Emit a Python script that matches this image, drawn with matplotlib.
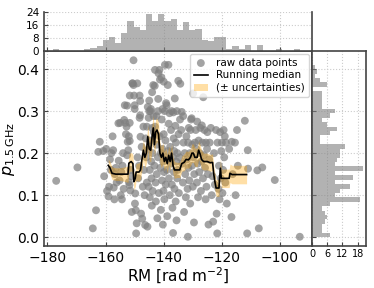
import numpy as np
import matplotlib
matplotlib.use("Agg")
import matplotlib.pyplot as plt

# ---------------- data ----------------
rm_vals = [-177, -169.7, -164.4, -163.3, -162, -162.5, -160.8, -160.5, -159.8, -159.5, -159, -158.8, -158.5,
           -158.2, -158, -157.6, -157.4, -157.2, -157, -156.8, -156.5, -156.2,
           -155.6, -155.5, -155.2, -155, -154.8, -154.6, -154.4, -154.2, -154, -153.8, -153.6,
           -153.4, -153.2, -153, -152.8, -152.6, -152.6, -152.4, -152.2, -152, -152, -151.8, -151.7, -151.7,
           -151.7, -151.5, -151.4, -151.2, -151, -150.8,
           -150.7, -150.4, -150.4, -150.2, -150, -150, -149.9, -149.8, -149.6, -149.5, -149.3, -149.1, -149, -148.8, -148.5,
           -148.3, -148.3, -148.1, -148.1, -148, -147.8, -147.6, -147.4, -147.2, -147, -146.8, -146.6, -146.4,
           -146.2, -146, -145.8, -145.8, -145.6, -145.5, -145.4, -145.2, -145.2, -145, -145, -144.8, -144.8, -144.6,
           -144.6, -144.4, -144.3, -144.2, -144.1, -144, -144, -143.9, -143.8,
           -143.6, -143.5, -143.4, -143.2, -143.1, -143, -143, -142.8, -142.7, -142.5, -142.5, -142.4, -142.2, -142,
           -142, -141.9, -141.8, -141.7, -141.5,
           -141.4, -141.3, -141.2, -141, -141, -140.8, -140.7, -140.6, -140.5, -140.4, -140.3, -140.2, -140.1, -140,
           -140, -139.9, -139.8, -139.7, -139.6, -139.5, -139.4, -139.3, -139.2,
           -139, -138.9, -138.8, -138.6, -138.5, -138.4, -138.3, -138.2, -138, -137.9, -137.8, -137.6, -137.5, -137.3,
           -137.2, -137, -136.9, -136.8, -136.7,
           -136.6, -136.5, -136.4, -136.3, -136.2, -136, -135.9, -135.8, -135.7, -135.6, -135.5, -135.4, -135.3, -135.2,
           -135, -134.9, -134.8, -134.6, -134.4, -134.3,
           -134, -133.8, -133.6, -133.4, -133.3, -133.2, -133, -132.8, -132.6, -132.4, -132.2, -132, -131.8,
           -131.7, -131.6, -131.5, -131.4, -131.2, -131, -130.9, -130.8, -130.6, -130.4, -130.3, -130.2, -130, -129.9,
           -129.8, -129.6, -129.5, -129.3,
           -129, -128.8, -128.6, -128.5, -128.3, -128.2, -128, -127.8, -127.6, -127.4, -127.2, -127, -126.9,
           -126.7, -126.5, -126.4, -126.2, -126, -125.8, -125.6, -125.5, -125.3, -125.1, -125, -124.8, -124.6, -124.4,
           -124.2, -123.8, -123.5, -123.2, -123, -122.7, -122.4,
           -122, -121.8, -121.6, -121.5, -121.2, -121, -120.8, -120.6, -120.4, -120.2, -120, -119.8, -119.6, -119.4,
           -119.2, -119, -118.8, -118.6, -118.3,
           -117.5, -116.7, -116.6, -116.3, -115.5, -115.3, -114.8, -114.5, -112.1, -111.3, -111.1, -111, -107.8,
           -107.3, -106.1, -101.8, -93.2]
p_vals = [0.134, 0.166, 0.021, 0.064, 0.227, 0.203, 0.205, 0.145, 0.21, 0.11, 0.097, 0.12, 0.185,
          0.16, 0.2, 0.24, 0.207, 0.118, 0.09, 0.15, 0.165, 0.13,
          0.271, 0.182, 0.135, 0.272, 0.1, 0.155, 0.09, 0.17, 0.2, 0.115, 0.279,
          0.314, 0.272, 0.245, 0.263, 0.313, 0.195, 0.227, 0.207, 0.24, 0.131, 0.124, 0.229, 0.272,
          0.337, 0.111, 0.16, 0.145, 0.06, 0.366,
          0.366, 0.421, 0.362, 0.337, 0.305, 0.314, 0.08, 0.104, 0.064, 0.009, 0.033, 0.366, 0.19, 0.14, 0.17,
          0.337, 0.284, 0.324, 0.29, 0.239, 0.056, 0.215, 0.044, 0.12, 0.263, 0.16, 0.1, 0.029,
          0.235, 0.19, 0.263, 0.13, 0.025, 0.31, 0.208, 0.284, 0.12, 0.325, 0.3, 0.16, 0.095, 0.3,
          0.23, 0.305, 0.18, 0.14, 0.075, 0.345, 0.26, 0.2, 0.11,
          0.362, 0.288, 0.25, 0.17, 0.36, 0.263, 0.398, 0.13, 0.085, 0.288, 0.22, 0.15, 0.045, 0.3,
          0.19, 0.329, 0.39, 0.105, 0.398,
          0.24, 0.375, 0.165, 0.2, 0.065, 0.38, 0.28, 0.135, 0.21, 0.305, 0.03, 0.18, 0.11, 0.37,
          0.245, 0.155, 0.09, 0.3, 0.41, 0.19, 0.23, 0.125, 0.319,
          0.314, 0.16, 0.05, 0.362, 0.205, 0.41, 0.27, 0.14, 0.295, 0.1, 0.215, 0.175, 0.255, 0.3,
          0.125, 0.07, 0.19, 0.01, 0.297,
          0.235, 0.155, 0.205, 0.115, 0.33, 0.265, 0.085, 0.225, 0.18, 0.04, 0.3, 0.14, 0.2, 0.16,
          0.372, 0.245, 0.105, 0.19, 0.28, 0.365,
          0.255, 0.298, 0.175, 0.13, 0.288, 0.225, 0.06, 0.2, 0.15, 0.095, 0.24, 0.185, 0.115,
          0.001, 0.225, 0.165, 0.26, 0.135, 0.2, 0.08, 0.255, 0.28, 0.283, 0.17, 0.22, 0.12, 0.342,
          0.19, 0.035, 0.15, 0.225,
          0.255, 0.21, 0.13, 0.275, 0.175, 0.095, 0.23, 0.155, 0.2, 0.26, 0.11, 0.18, 0.266,
          0.225, 0.14, 0.333, 0.195, 0.255, 0.165, 0.09, 0.225, 0.12, 0.21, 0.25, 0.15, 0.03, 0.185,
          0.225, 0.26, 0.1, 0.145, 0.037, 0.2, 0.125,
          0.255, 0.056, 0.009, 0.225, 0.115, 0.17, 0.09, 0.25, 0.14, 0.205, 0.225, 0.105, 0.16, 0.255,
          0.19, 0.24, 0.13, 0.225, 0.08,
          0.21, 0.048, 0.227, 0.15, 0.225, 0.1, 0.255, 0.17, 0.277, 0.009, 0.207, 0.163, 0.159,
          0.021, 0.166, 0.136, 0.001]

# running median and uncertainty
med_rm = [-159.1, -158.5, -157.8, -156.5, -155, -153, -152.3, -152, -151.2, -150.6, -150.3, -149.8, -149.5,
          -148.5, -148, -147.5, -147, -146.5, -146, -145.5, -145, -144.5, -144, -143.6, -143.2, -142.8,
          -142.3, -141.8, -141.3, -140.8, -140.3, -139.8, -139.3, -138.8, -138.3, -137.8, -137.3, -136.8,
          -136.3, -135.5, -134.5, -133.8, -133, -132.3, -131.5, -130.8, -130.3, -129.8, -129.3, -128.5,
          -128, -127.5, -127, -126.3, -125, -124, -123.2, -122.8, -122.4, -122, -121.5, -121, -120.8,
          -120.5, -120.2, -119, -117.5, -117.2, -116.5, -114, -111.5]
med_p = [0.171, 0.165, 0.152, 0.150, 0.150, 0.150, 0.150, 0.176, 0.180, 0.175, 0.132, 0.140, 0.155,
         0.155, 0.160, 0.185, 0.207, 0.190, 0.200, 0.239, 0.210, 0.207, 0.240, 0.260, 0.220, 0.250,
         0.255, 0.245, 0.200, 0.190, 0.200, 0.180, 0.190, 0.175, 0.195, 0.180, 0.200, 0.170,
         0.160, 0.160, 0.160, 0.175, 0.178, 0.185, 0.184, 0.190, 0.200, 0.200, 0.190, 0.190,
         0.207, 0.198, 0.185, 0.180, 0.180, 0.177, 0.178, 0.150, 0.132, 0.117, 0.117, 0.117, 0.140,
         0.164, 0.140, 0.140, 0.140, 0.152, 0.149, 0.149, 0.149]
med_err = [0.015, 0.015, 0.015, 0.015, 0.015, 0.018, 0.02, 0.022, 0.022, 0.022, 0.02, 0.02, 0.02,
           0.022, 0.022, 0.025, 0.025, 0.025, 0.025, 0.028, 0.028, 0.028, 0.03, 0.03, 0.03, 0.03,
           0.028, 0.028, 0.025, 0.025, 0.025, 0.022, 0.022, 0.022, 0.022, 0.022, 0.022, 0.02,
           0.02, 0.018, 0.018, 0.018, 0.02, 0.02, 0.02, 0.02, 0.022, 0.022, 0.022, 0.022,
           0.022, 0.022, 0.022, 0.02, 0.02, 0.02, 0.02, 0.02, 0.02, 0.02, 0.02, 0.02, 0.02,
           0.022, 0.022, 0.022, 0.022, 0.022, 0.022, 0.022, 0.022]

# marginal histogram counts
rm_bin_lo, rm_bin_hi, rm_nbins = -178.0, -93.0, 40
rm_counts = [1, 0, 0, 0, 0, 1, 2, 3, 7, 9, 5, 11, 19, 15, 13, 23, 19, 23, 19, 20,
             13, 18, 13, 14, 7, 6, 9, 9, 1, 3, 1, 4, 0, 4, 0, 0, 1, 0, 0, 1]
p_bin_lo, p_bin_hi, p_nbins = 0.0, 0.421, 40
p_counts = [7, 4, 4, 5, 6, 5, 4, 7, 19, 9, 11, 15, 9, 16, 9, 20, 9, 10, 11, 11,
            13, 3, 3, 7, 10, 6, 4, 7, 9, 4, 4, 4, 4, 0, 6, 3, 1, 2, 1, 0]

# ---------------- figure ----------------
fig = plt.figure(figsize=(3.74, 2.88), dpi=100)
ax = fig.add_axes([0.1176, 0.1458, 0.7166, 0.6771])
axx = fig.add_axes([0.1176, 0.8229, 0.7166, 0.1371], sharex=ax)
axy = fig.add_axes([0.8342, 0.1458, 0.1444, 0.6771], sharey=ax)

spine_col = '#444444'
grid_kw = dict(color='#cccccc', linestyle=':', linewidth=0.8)

ax.scatter(rm_vals, p_vals, s=32, color='gray', alpha=0.72, edgecolors='none',
           label='raw data points', zorder=2)
lo = np.array(med_p) - np.array(med_err)
hi = np.array(med_p) + np.array(med_err)
ax.fill_between(med_rm, lo, hi, color='orange', alpha=0.35, linewidth=0,
                label='(± uncertainties)', zorder=3)
ax.plot(med_rm, med_p, color='black', lw=1.2, label='Running median', zorder=4)

ax.set_xticks([-180, -160, -140, -120, -100])
ax.set_yticks([0.0, 0.1, 0.2, 0.3, 0.4])
ax.set_xlim(-181.2, -89.0)
ax.set_ylim(-0.021, 0.443)
ax.grid(True, **grid_kw)
ax.set_axisbelow(True)
ax.tick_params(direction='in', labelsize=10, length=3, color=spine_col)
ax.set_xlabel(r'RM [rad m$^{-2}$]', fontsize=11, labelpad=1)
ax.set_ylabel(r'$p_{1.5\,\mathrm{GHz}}$', fontsize=11.5, labelpad=0)
for s in ax.spines.values():
    s.set_color(spine_col)
    s.set_linewidth(1.2)

handles, labels = ax.get_legend_handles_labels()
order = [labels.index('raw data points'), labels.index('Running median'), labels.index('(± uncertainties)')]
ax.legend([handles[i] for i in order], [labels[i] for i in order], loc='upper right',
          fontsize=7.5, borderaxespad=0.3, handlelength=1.4, handletextpad=0.8, labelspacing=0.25,
          borderpad=0.35, framealpha=0.8)

# top histogram
edges_x = np.linspace(rm_bin_lo, rm_bin_hi, rm_nbins + 1)
axx.bar(edges_x[:-1], rm_counts, width=np.diff(edges_x), align='edge', color='gray', alpha=0.6,
        linewidth=0)
axx.set_ylim(0, 24.6)
axx.set_yticks([0, 8, 16, 24])
axx.grid(True, **grid_kw)
axx.set_axisbelow(True)
axx.tick_params(direction='in', labelsize=7.5, length=3, labelbottom=False, color=spine_col)
axx.spines['top'].set_visible(False)
for s in ['left', 'right', 'bottom']:
    axx.spines[s].set_color(spine_col)
    axx.spines[s].set_linewidth(1.2)

# right histogram
edges_y = np.linspace(p_bin_lo, p_bin_hi, p_nbins + 1)
axy.barh(edges_y[:-1], p_counts, height=np.diff(edges_y), align='edge', color='gray', alpha=0.6,
         linewidth=0)
axy.set_xlim(0, 21.3)
axy.set_xticks([0, 6, 12, 18])
axy.grid(True, **grid_kw)
axy.set_axisbelow(True)
axy.tick_params(direction='in', labelsize=7, length=3, labelleft=False, color=spine_col, pad=2)
for s in axy.spines.values():
    s.set_color(spine_col)
    s.set_linewidth(1.2)

fig.savefig('out.png', dpi=100)
